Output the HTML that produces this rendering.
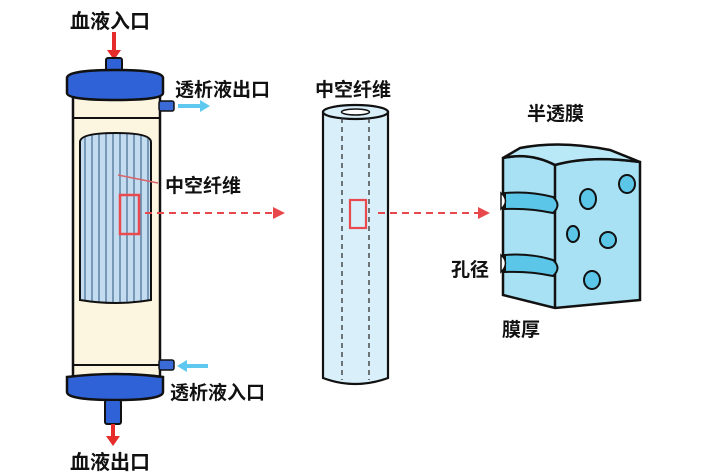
<!DOCTYPE html>
<html><head><meta charset="utf-8"><style>
html,body{margin:0;padding:0;background:#fff;width:719px;height:475px;overflow:hidden}
text{font-family:"Liberation Sans","Noto Sans CJK SC",sans-serif;font-weight:bold;fill:#111}
</style></head><body>
<svg width="719" height="475" viewBox="0 0 719 475" xmlns="http://www.w3.org/2000/svg">
<defs>
<marker id="rh" markerWidth="6" markerHeight="6" refX="5" refY="3" orient="auto"><path d="M0,0 L6,3 L0,6 z" fill="#e8484b"/></marker>
<pattern id="fib" width="7" height="10" patternUnits="userSpaceOnUse"><rect width="7" height="10" fill="#c4dcf0"/><line x1="1" y1="0" x2="1" y2="10" stroke="#4f7399" stroke-width="1.3"/></pattern>
</defs>
<text x="70" y="28" font-size="20">血液入口</text>
<line x1="114" y1="32" x2="114" y2="56" stroke="#e62b2b" stroke-width="4"/>
<path d="M107,50 L114,60 L121,50z" fill="#e62b2b"/>
<rect x="106" y="58" width="16" height="15" rx="2" fill="#2f62d6" stroke="#111" stroke-width="2"/>
<path d="M73,95 L73,378 Q73,388 83,388 L150,388 Q160,388 160,378 L160,95z" fill="#fcf5e0" stroke="#111" stroke-width="2.5"/>
<line x1="73" y1="118" x2="160" y2="118" stroke="#111" stroke-width="2"/>
<line x1="73" y1="365" x2="160" y2="365" stroke="#111" stroke-width="2"/>
<path d="M80,300 L80,142 Q80,133 116,133 Q151,133 151,142 L151,300 Q116,306 80,300z" fill="url(#fib)" stroke="#111" stroke-width="2"/>
<path d="M67,78 Q67,70 116,70 Q163,70 163,78 L163,93 Q163,100 116,100 Q67,100 67,93z" fill="#2f62d6" stroke="#111" stroke-width="2.5"/>
<path d="M67,377 Q116,371 163,377 L163,392 Q163,400 116,400 Q67,400 67,392z" fill="#2f62d6" stroke="#111" stroke-width="2.5"/>
<rect x="105" y="400" width="16" height="24" rx="2" fill="#2f62d6" stroke="#111" stroke-width="2"/>
<line x1="113" y1="424" x2="113" y2="440" stroke="#e62b2b" stroke-width="4"/>
<path d="M106,436 L113,446 L120,436z" fill="#e62b2b"/>
<text x="70" y="469" font-size="20">血液出口</text>
<rect x="159" y="101" width="15" height="10" rx="2" fill="#3a6ad6" stroke="#111" stroke-width="1.5"/>
<line x1="178" y1="106" x2="202" y2="106" stroke="#5fc8ef" stroke-width="4"/>
<path d="M200,100 L210,106 L200,112z" fill="#5fc8ef"/>
<text x="175" y="96" font-size="19">透析液出口</text>
<rect x="159" y="360" width="15" height="10" rx="2" fill="#3a6ad6" stroke="#111" stroke-width="1.5"/>
<line x1="186" y1="366" x2="208" y2="366" stroke="#5fc8ef" stroke-width="4"/>
<path d="M187,360 L177,366 L187,372z" fill="#5fc8ef"/>
<text x="170" y="399" font-size="19">透析液入口</text>
<text x="165" y="192" font-size="19">中空纤维</text>
<line x1="158" y1="183" x2="118" y2="175" stroke="#d9656b" stroke-width="1.5"/>
<rect x="120" y="195" width="19" height="39" fill="none" stroke="#e84a4f" stroke-width="2.5"/>
<line x1="145" y1="213" x2="283" y2="213" stroke="#e8484b" stroke-width="2" stroke-dasharray="7,5" marker-end="url(#rh)"/>
<text x="315" y="96" font-size="19">中空纤维</text>
<path d="M323,112 L323,378 Q355,390 388,378 L388,112z" fill="#d9effa" stroke="#111" stroke-width="2.2"/>
<ellipse cx="355.5" cy="112" rx="32.5" ry="7" fill="#d9effa" stroke="#111" stroke-width="2.2"/>
<ellipse cx="355.5" cy="112" rx="14" ry="3" fill="#fff" stroke="#111" stroke-width="1.5"/>
<line x1="342" y1="118" x2="342" y2="380" stroke="#333" stroke-width="1.3" stroke-dasharray="5,4"/>
<line x1="369" y1="118" x2="369" y2="380" stroke="#333" stroke-width="1.3" stroke-dasharray="5,4"/>
<rect x="350" y="200" width="16" height="28" fill="none" stroke="#e84a4f" stroke-width="2.2"/>
<line x1="378" y1="213" x2="488" y2="213" stroke="#e8484b" stroke-width="2" stroke-dasharray="7,5" marker-end="url(#rh)"/>
<text x="527" y="120" font-size="19">半透膜</text>
<path d="M503,158 Q530,152 555,165 Q590,155 640,162 L640,300 L555,308 L503,295z" fill="#a8e1f3" stroke="#111" stroke-width="2.5"/>
<path d="M503,158 L520,148 Q560,140 610,150 L640,162 Q590,155 555,165 Q530,152 503,158z" fill="#b9e8f6" stroke="#111" stroke-width="2.5"/>
<line x1="555" y1="165" x2="555" y2="308" stroke="#111" stroke-width="2.5"/>
<path d="M505,193 Q530,191 553,197 Q562,205 553,213 Q530,208 505,209z" fill="#5cc6e8" stroke="#111" stroke-width="2"/>
<path d="M501,193 Q510,201 501,209z" fill="#fff" stroke="#111" stroke-width="1.5"/>
<path d="M505,255 Q530,253 553,260 Q562,268 553,276 Q530,271 505,272z" fill="#5cc6e8" stroke="#111" stroke-width="2"/>
<path d="M501,255 Q510,263 501,272z" fill="#fff" stroke="#111" stroke-width="1.5"/>
<ellipse cx="588" cy="199" rx="8" ry="10" fill="#5cc6e8" stroke="#111" stroke-width="2"/>
<ellipse cx="627" cy="184" rx="8" ry="9" fill="#5cc6e8" stroke="#111" stroke-width="2"/>
<ellipse cx="573" cy="234" rx="6" ry="8" fill="#5cc6e8" stroke="#111" stroke-width="2"/>
<ellipse cx="608" cy="240" rx="8" ry="8" fill="#5cc6e8" stroke="#111" stroke-width="2"/>
<ellipse cx="592" cy="280" rx="8" ry="9" fill="#5cc6e8" stroke="#111" stroke-width="2"/>
<text x="451" y="276" font-size="19">孔径</text>
<text x="502" y="336" font-size="19">膜厚</text>
</svg>
</body></html>
